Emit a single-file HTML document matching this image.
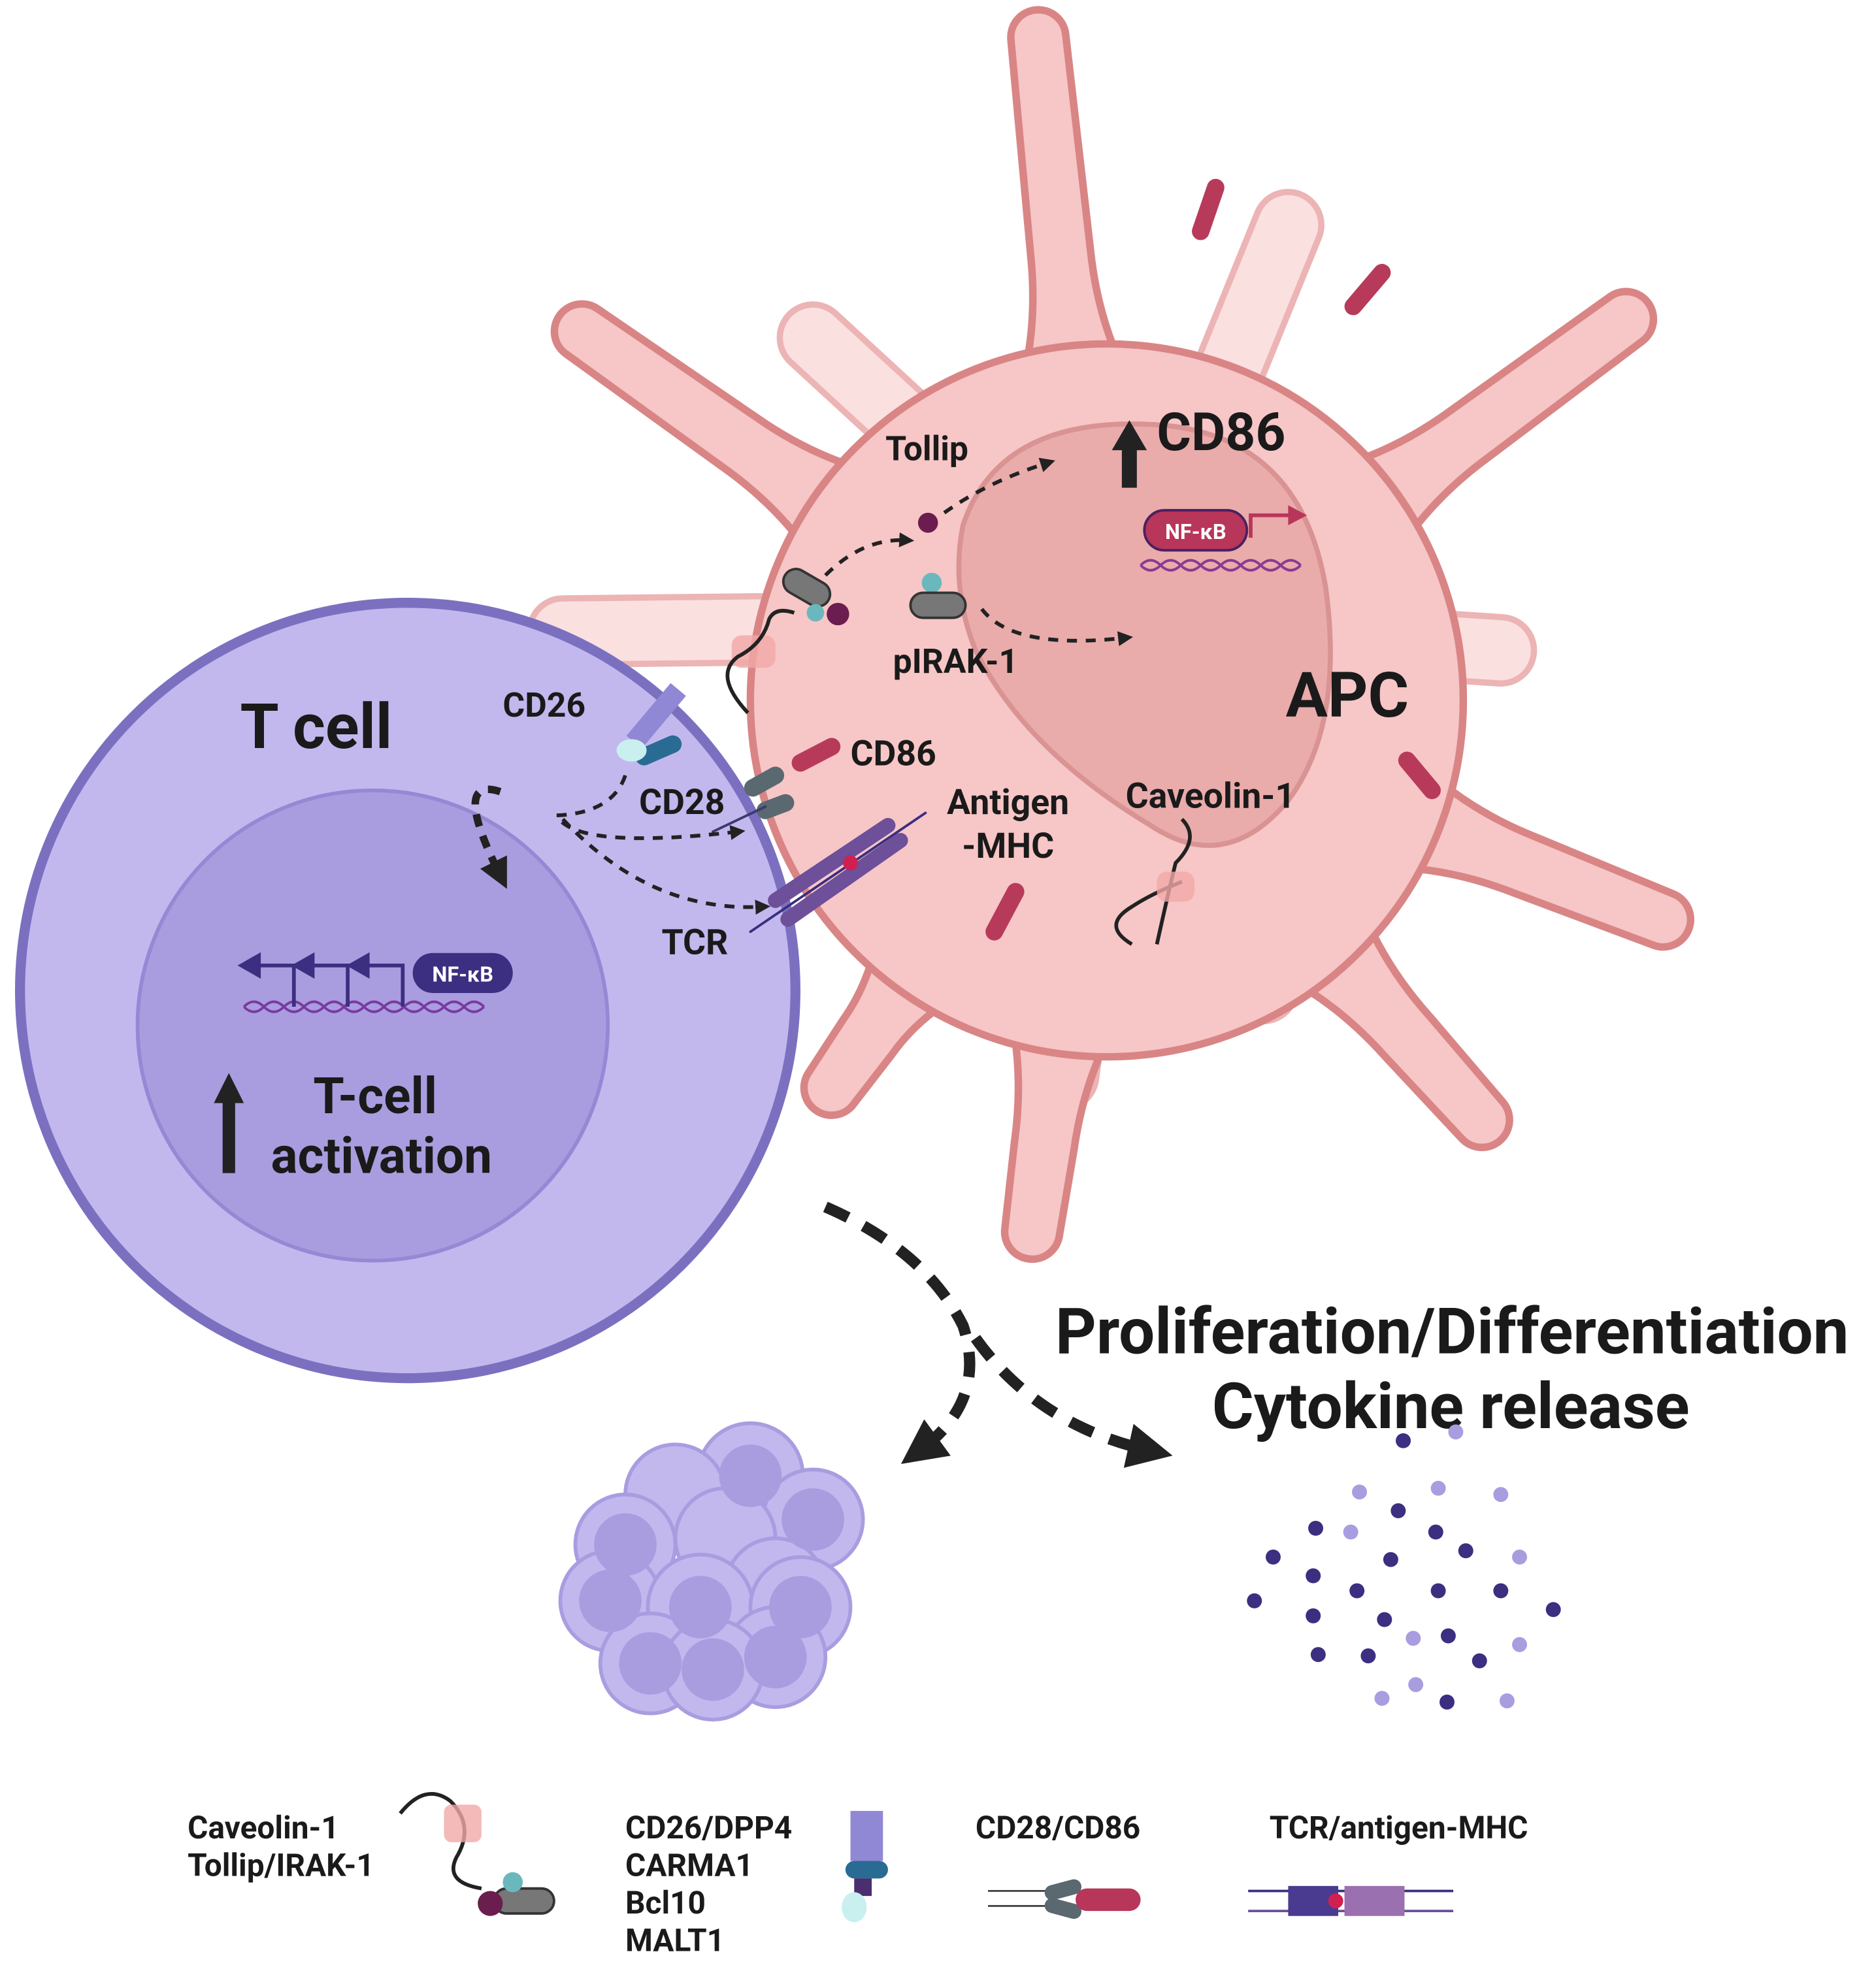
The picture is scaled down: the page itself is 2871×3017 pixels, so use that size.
<!DOCTYPE html>
<html><head><meta charset="utf-8"><style>
html,body{margin:0;padding:0;background:#fff}
svg{display:block}
text{font-family:"Roboto","Liberation Sans",sans-serif;font-weight:bold;fill:#1a1a1a}
</style></head><body>
<svg width="2871" height="3017" viewBox="0 0 1500 1576" preserveAspectRatio="none" xmlns="http://www.w3.org/2000/svg">
<defs>
<marker id="ah" viewBox="0 0 10 10" refX="5" refY="5" markerWidth="4" markerHeight="4" orient="auto"><path d="M0,0L10,5L0,10z" fill="#222"/></marker>
</defs>
<g stroke-linecap="round" fill="none">
<g stroke="#ecb4b4" stroke-width="58">
<line x1="900" y1="500" x2="1030" y2="180"/><line x1="900" y1="500" x2="650" y2="270"/><line x1="900" y1="500" x2="1200" y2="520"/><line x1="900" y1="500" x2="1010" y2="790"/><line x1="900" y1="500" x2="850" y2="860"/><line x1="900" y1="500" x2="450" y2="505"/>
</g>
<g stroke="#fbe0e0" stroke-width="48">
<line x1="900" y1="500" x2="1030" y2="180"/><line x1="900" y1="500" x2="650" y2="270"/><line x1="900" y1="500" x2="1200" y2="520"/><line x1="900" y1="500" x2="1010" y2="790"/><line x1="900" y1="500" x2="850" y2="860"/><line x1="900" y1="500" x2="450" y2="505"/>
</g>
</g>
<g fill="#f7c6c6" stroke="#d98585" stroke-width="6" stroke-linejoin="round">
<path transform="translate(885,560) rotate(-95.9)" d="M0,-60 L250,-45 Q300,-24 360,-24 L533,-22 A22,22 0 0 1 533,22 L360,24 Q300,24 250,45 L0,60z"/>
<path transform="translate(885,560) rotate(-36.3)" d="M0,-60 L250,-45 Q300,-24 360,-24 L515,-22 A22,22 0 0 1 515,22 L360,24 Q300,24 250,45 L0,60z"/>
<path transform="translate(885,560) rotate(21.5)" d="M0,-60 L250,-45 Q300,-24 360,-24 L478,-22 A22,22 0 0 1 478,22 L360,24 Q300,24 250,45 L0,60z"/>
<path transform="translate(885,560) rotate(48.2)" d="M0,-60 L250,-45 Q300,-24 360,-24 L450,-22 A22,22 0 0 1 450,22 L360,24 Q300,24 250,45 L0,60z"/>
<path transform="translate(885,560) rotate(98)" d="M0,-60 L250,-45 Q300,-24 360,-24 L429,-22 A22,22 0 0 1 429,22 L360,24 Q300,24 250,45 L0,60z"/>
<path transform="translate(885,560) rotate(125.4)" d="M0,-60 L250,-45 Q290,-24 330,-24 L380,-22 A22,22 0 0 1 380,22 L330,24 Q290,24 250,45 L0,60z"/>
<path transform="translate(885,560) rotate(-144.9)" d="M0,-60 L250,-45 Q300,-24 360,-24 L513,-22 A22,22 0 0 1 513,22 L360,24 Q300,24 250,45 L0,60z"/>
</g>
<circle cx="885" cy="560" r="285" fill="#f7c6c6" stroke="#d98585" stroke-width="6"/>
<circle cx="885" cy="560" r="282" fill="#f7c6c6"/>
<path d="M770,420 Q800,330 930,340 Q1040,350 1060,470 Q1075,580 1030,640 Q980,700 920,660 Q820,600 780,520 Q760,470 770,420z" fill="#eaabab" stroke="#d99393" stroke-width="4"/>
<g stroke="#b83a5a" stroke-width="14" stroke-linecap="round">
<line x1="960" y1="185" x2="972" y2="150"/><line x1="1082" y1="245" x2="1105" y2="218"/><line x1="1125" y1="608" x2="1145" y2="632"/><line x1="795" y1="745" x2="812" y2="713"/><line x1="640" y1="610" x2="665" y2="597"/>
</g>
<circle cx="326" cy="792" r="310" fill="#c2b8ee" stroke="#7b70c0" stroke-width="8"/>
<circle cx="298" cy="820" r="188" fill="#a99de0" stroke="#9588d4" stroke-width="3"/>
<g stroke-linecap="round">
<line x1="538" y1="595" x2="515" y2="605" stroke="#2a6b94" stroke-width="14"/>
<rect x="517" y="545" width="16" height="55" fill="#9088d4" transform="rotate(40 525 572)"/>
<ellipse cx="505" cy="600" rx="12" ry="9" fill="#c9efee"/>
<line x1="602" y1="630" x2="620" y2="620" stroke="#5a6870" stroke-width="14"/>
<line x1="612" y1="648" x2="628" y2="642" stroke="#5a6870" stroke-width="14"/>
<line x1="570" y1="665" x2="612" y2="645" stroke="#3a3a70" stroke-width="2"/>
<line x1="620" y1="720" x2="710" y2="660" stroke="#6d4f9a" stroke-width="12"/>
<line x1="630" y1="735" x2="720" y2="672" stroke="#6d4f9a" stroke-width="12"/>
<line x1="600" y1="745" x2="740" y2="650" stroke="#3a2e80" stroke-width="2"/>
<circle cx="680" cy="690" r="6" fill="#d02050"/>
</g>
<rect x="585" y="508" width="35" height="26" rx="8" fill="#f1a8a8" opacity="0.8"/>
<path d="M598,570 Q570,540 590,525 Q610,515 615,495 Q620,485 635,490" stroke="#222" stroke-width="3" fill="none"/>
<rect x="625" y="460" width="40" height="20" rx="10" fill="#777" stroke="#333" stroke-width="2" transform="rotate(30 645 470)"/>
<circle cx="652" cy="490" r="7" fill="#6ab8be"/><circle cx="670" cy="491" r="9" fill="#6a1d4e"/>
<circle cx="742" cy="418" r="8" fill="#6a1d4e"/>
<circle cx="745" cy="466" r="8" fill="#6ab8be"/>
<rect x="728" y="474" width="44" height="20" rx="10" fill="#777" stroke="#333" stroke-width="2"/>
<path d="M925,755 Q935,710 940,690 Q960,670 945,655" stroke="#222" stroke-width="3" fill="none"/>
<path d="M905,755 Q880,740 905,725 Q920,715 945,705" stroke="#222" stroke-width="3" fill="none"/>
<rect x="925" y="697" width="30" height="24" rx="8" fill="#f1a8a8" opacity="0.8"/>
<g fill="none" stroke="#222" stroke-width="3" stroke-dasharray="8,7" marker-end="url(#ah)">
<path d="M660,460 Q690,430 725,432"/>
<path d="M755,410 Q790,385 838,370"/>
<path d="M785,487 Q810,520 900,510"/>
<path d="M500,620 Q490,650 445,652 Q460,680 590,665"/>
<path d="M450,655 Q520,730 610,725"/>
<path d="M400,633 Q360,620 400,700" stroke-width="6" stroke-dasharray="10,8"/>
<path d="M660,965 Q740,1000 770,1060 Q790,1120 735,1160" stroke-width="9" stroke-dasharray="20,14"/>
<path d="M780,1070 Q830,1140 920,1160" stroke-width="9" stroke-dasharray="20,14"/>
</g>
<rect x="915" y="408" width="82" height="32" rx="16" fill="#b8365a" stroke="#4a2060" stroke-width="2"/>
<text x="956" y="431" font-size="17" text-anchor="middle" font-weight="normal" style="fill:#fff">NF-κB</text>
<path d="M1000,430 L1000,412 L1035,412" stroke="#b8365a" stroke-width="3" fill="none"/><path d="M1030,404 L1045,412 L1030,420z" fill="#b8365a"/>
<path d="M912,452 q8,-8 16,0 t16,0 t16,0 t16,0 t16,0 t16,0 t16,0 t16,0 M912,452 q8,8 16,0 t16,0 t16,0 t16,0 t16,0 t16,0 t16,0 t16,0" stroke="#8a3a90" stroke-width="2" fill="none"/>
<rect x="330" y="762" width="80" height="32" rx="16" fill="#3c2e80"/>
<text x="370" y="785" font-size="17" text-anchor="middle" font-weight="normal" style="fill:#fff">NF-κB</text>
<path d="M195,805 q8,-8 16,0 t16,0 t16,0 t16,0 t16,0 t16,0 t16,0 t16,0 t16,0 t16,0 t16,0 t16,0 M195,805 q8,8 16,0 t16,0 t16,0 t16,0 t16,0 t16,0 t16,0 t16,0 t16,0 t16,0 t16,0 t16,0" stroke="#7a3aa0" stroke-width="2" fill="none"/>
<g stroke="#3c2e80" stroke-width="3" fill="#3c2e80">
<path d="M235,805 V772 H205" fill="none"/><path d="M278,805 V772 H248" fill="none"/><path d="M322,805 V772 H292" fill="none"/>
<path d="M207,764 L193,772 L207,780z"/><path d="M250,764 L236,772 L250,780z"/><path d="M294,764 L280,772 L294,780z"/>
</g>
<rect x="897" y="358" width="12" height="32" fill="#222"/><path d="M889,360 L903,336 L917,360z" fill="#222"/>
<rect x="178" y="880" width="10" height="58" fill="#222"/><path d="M171,882 L183,858 L195,882z" fill="#222"/>
<text x="708" y="368" font-size="27">Tollip</text>
<text x="925" y="360" font-size="42">CD86</text>
<text x="714" y="538" font-size="27">pIRAK-1</text>
<text x="1028" y="573" font-size="50">APC</text>
<text x="192" y="598" font-size="50">T cell</text>
<text x="402" y="573" font-size="27">CD26</text>
<text x="680" y="612" font-size="28">CD86</text>
<text x="511" y="651" font-size="28">CD28</text>
<text x="806" y="651" font-size="28" text-anchor="middle">Antigen</text>
<text x="806" y="686" font-size="28" text-anchor="middle">-MHC</text>
<text x="900" y="646" font-size="28">Caveolin-1</text>
<text x="529" y="763" font-size="28">TCR</text>
<text x="300" y="890" font-size="40" text-anchor="middle">T-cell</text>
<text x="305" y="938" font-size="40" text-anchor="middle">activation</text>
<text x="1161" y="1082" font-size="51" text-anchor="middle">Proliferation/Differentiation</text>
<text x="1160" y="1142" font-size="51" text-anchor="middle">Cytokine release</text>
<g fill="#c2b8ee" stroke="#a99de0" stroke-width="3">
<circle cx="600" cy="1180" r="42"/><circle cx="540" cy="1195" r="40"/><circle cx="650" cy="1215" r="40"/><circle cx="500" cy="1235" r="40"/><circle cx="580" cy="1230" r="40"/><circle cx="620" cy="1270" r="40"/><circle cx="488" cy="1280" r="40"/><circle cx="560" cy="1285" r="42"/><circle cx="640" cy="1285" r="40"/><circle cx="520" cy="1330" r="40"/><circle cx="620" cy="1325" r="40"/><circle cx="570" cy="1335" r="40"/>
</g>
<g fill="#a99de0">
<circle cx="600" cy="1180" r="25"/><circle cx="650" cy="1215" r="25"/><circle cx="500" cy="1235" r="25"/><circle cx="488" cy="1280" r="25"/><circle cx="560" cy="1285" r="25"/><circle cx="640" cy="1285" r="25"/><circle cx="520" cy="1330" r="25"/><circle cx="620" cy="1325" r="25"/><circle cx="570" cy="1335" r="25"/>
</g>
<g fill="#3c2e80">
<circle cx="1122" cy="1152" r="6"/><circle cx="1118" cy="1208" r="6"/><circle cx="1052" cy="1222" r="6"/><circle cx="1148" cy="1225" r="6"/><circle cx="1172" cy="1240" r="6"/><circle cx="1018" cy="1245" r="6"/><circle cx="1112" cy="1247" r="6"/><circle cx="1050" cy="1260" r="6"/><circle cx="1085" cy="1272" r="6"/><circle cx="1150" cy="1272" r="6"/><circle cx="1200" cy="1272" r="6"/><circle cx="1003" cy="1280" r="6"/><circle cx="1242" cy="1287" r="6"/><circle cx="1050" cy="1292" r="6"/><circle cx="1107" cy="1295" r="6"/><circle cx="1158" cy="1308" r="6"/><circle cx="1054" cy="1323" r="6"/><circle cx="1094" cy="1324" r="6"/><circle cx="1183" cy="1328" r="6"/><circle cx="1157" cy="1361" r="6"/>
</g>
<g fill="#a99de0">
<circle cx="1164" cy="1145" r="6"/><circle cx="1087" cy="1193" r="6"/><circle cx="1150" cy="1190" r="6"/><circle cx="1200" cy="1195" r="6"/><circle cx="1080" cy="1225" r="6"/><circle cx="1215" cy="1245" r="6"/><circle cx="1130" cy="1310" r="6"/><circle cx="1215" cy="1315" r="6"/><circle cx="1132" cy="1347" r="6"/><circle cx="1105" cy="1358" r="6"/><circle cx="1205" cy="1360" r="6"/>
</g>
<text x="150" y="1470" font-size="25">Caveolin-1</text>
<text x="150" y="1500" font-size="25">Tollip/IRAK-1</text>
<path d="M320,1450 Q340,1425 360,1440 Q380,1460 365,1485 Q355,1505 385,1510" stroke="#222" stroke-width="3" fill="none"/>
<rect x="355" y="1443" width="30" height="30" rx="6" fill="#f1a8a8" opacity="0.8"/>
<rect x="395" y="1510" width="48" height="20" rx="10" fill="#777" stroke="#333" stroke-width="2"/>
<circle cx="410" cy="1505" r="8" fill="#6ab8be"/><circle cx="392" cy="1522" r="10" fill="#6a1d4e"/>
<text x="500" y="1470" font-size="25">CD26/DPP4</text>
<text x="500" y="1500" font-size="25">CARMA1</text>
<text x="500" y="1530" font-size="25">Bcl10</text>
<text x="500" y="1560" font-size="25">MALT1</text>
<rect x="680" y="1448" width="26" height="40" fill="#9088d4"/>
<rect x="676" y="1488" width="34" height="14" rx="7" fill="#2a6b94"/>
<rect x="683" y="1502" width="14" height="14" fill="#4a2e70"/>
<ellipse cx="683" cy="1525" rx="10" ry="12" fill="#c9efee"/>
<text x="780" y="1470" font-size="25">CD28/CD86</text>
<line x1="790" y1="1512" x2="840" y2="1512" stroke="#444" stroke-width="1.5"/><line x1="790" y1="1524" x2="840" y2="1524" stroke="#444" stroke-width="1.5"/>
<rect x="835" y="1505" width="30" height="12" rx="6" fill="#5a6870" transform="rotate(-15 850 1511)"/>
<rect x="835" y="1520" width="30" height="12" rx="6" fill="#5a6870" transform="rotate(15 850 1526)"/>
<rect x="860" y="1510" width="52" height="18" rx="9" fill="#b8365a"/>
<text x="1015" y="1470" font-size="25">TCR/antigen-MHC</text>
<line x1="998" y1="1512" x2="1162" y2="1512" stroke="#3a2e80" stroke-width="2"/><line x1="998" y1="1528" x2="1162" y2="1528" stroke="#6d4f9a" stroke-width="2"/>
<rect x="1030" y="1508" width="40" height="24" fill="#4a3a90"/><rect x="1075" y="1508" width="48" height="24" fill="#9a70b0"/>
<circle cx="1068" cy="1520" r="6" fill="#d02050"/>
</svg>
</body></html>
